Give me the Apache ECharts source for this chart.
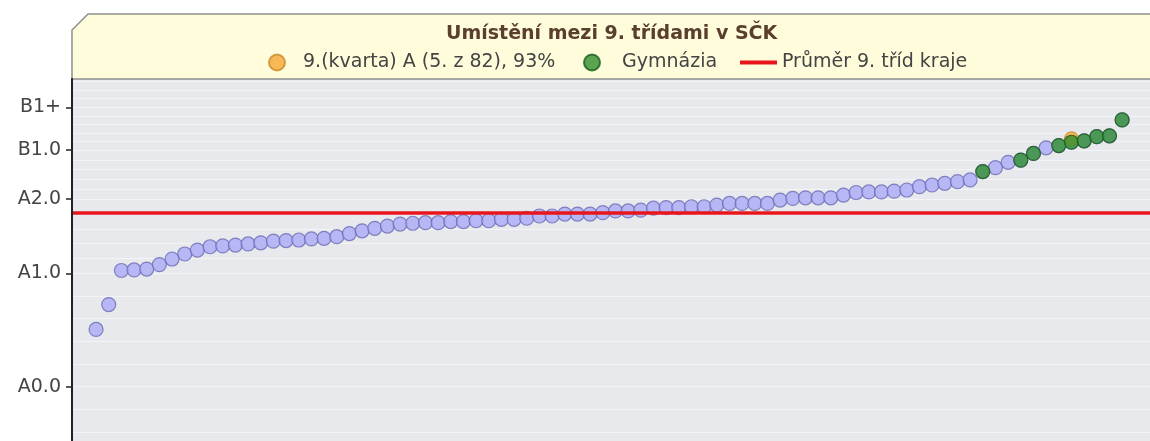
<!DOCTYPE html>
<html>
<head>
<meta charset="utf-8">
<script src="https://cdn.jsdelivr.net/npm/echarts@6/dist/echarts.min.js"></script>
<style>
  html, body { margin: 0; padding: 0; background: #fff; }
  #chart { width: 1150px; height: 441px; }
</style>
</head>
<body>
<div id="chart"></div>
<script>
// vsechny tridy serazene podle vysledku (1 = nejhorsi)
var classValues = [
    20.5, 29.4, 41.6, 41.8, 42.1, 43.7, 45.7, 47.5, 48.9, 50.1,
    50.4, 50.7, 51.1, 51.5, 52.1, 52.3, 52.5, 52.9, 53.1, 53.7,
    54.8, 55.8, 56.7, 57.5, 58.2, 58.5, 58.7, 58.7, 59.1, 59.1,
    59.4, 59.4, 59.9, 59.9, 60.3, 61.1, 61.1, 61.8, 61.8, 61.8,
    62.3, 62.9, 62.9, 63.2, 63.9, 64.1, 64.1, 64.4, 64.4, 65.0,
    65.6, 65.6, 65.6, 65.6, 66.8, 67.4, 67.6, 67.6, 67.6, 68.6,
    69.5, 69.7, 69.7, 70.0, 70.4, 71.6, 72.2, 72.8, 73.4, 74.0,
    77.0, 78.4, 80.3, 81.1, 83.5, 85.5, 86.3, 87.5, 88.0, 89.5,
    89.8, 95.5
];
var gymIndex = [71, 74, 75, 77, 78, 79, 80, 81, 82];
var myClassIndex = 78;
var myClassValue = 88.7;
var krajAverage = 62.2;

var tickValues = [0, 40.6, 67.1, 84.7, 100];
var tickNames = ['A0.0', 'A1.0', 'A2.0', 'B1.0', 'B1+'];
var gridValues = [-16.2, -8.1, 0, 8.1, 16.2, 24.4, 32.5, 40.6, 45.9, 51.2, 56.5, 61.8,
    67.1, 70.6, 74.1, 77.7, 81.2, 84.7, 87.8, 90.8, 93.9, 96.9, 100, 103.1, 106.1, 109.2];

var legendNames = ['9.(kvarta) A (5. z 82), 93%', 'Gymnázia', 'Průměr 9. tříd kraje'];

var xMin = -0.9, xMax = 84.2;

var allData = classValues.map(function (v, i) { return [i + 1, v]; });
var gymData = gymIndex.map(function (n) { return [n, classValues[n - 1]]; });

var font = 'DejaVu Sans';

var dom = document.getElementById('chart');
var myChart = echarts.init(dom);

var option = {
    animation: false,
    textStyle: { fontFamily: font },
    graphic: [
        {
            type: 'polygon',
            z: 0,
            shape: { points: [[72, 30], [88, 14], [1152, 14], [1152, 79], [72, 79]] },
            style: { fill: '#fefcdb', stroke: '#8f8f8f', lineWidth: 1.5 }
        }
    ],
    title: {
        text: 'Umístění mezi 9. třídami v SČK',
        left: 446,
        top: 25,
        padding: 0,
        z: 10,
        textStyle: { fontFamily: font, fontSize: 19, fontWeight: 'bold', color: '#5a3e2e' }
    },
    legend: [
        {
            data: [legendNames[0]], left: 268, top: 53, padding: 0, z: 10,
            icon: 'circle', itemWidth: 42, itemHeight: 16,
            textStyle: { fontFamily: font, fontSize: 19, color: '#444' }
        },
        {
            data: [legendNames[1]], left: 583, top: 53, padding: 0, z: 10,
            icon: 'circle', itemWidth: 50, itemHeight: 16,
            textStyle: { fontFamily: font, fontSize: 19, color: '#444' }
        },
        {
            data: [legendNames[2]], left: 740, top: 53, padding: 0, z: 10,
            icon: 'rect', itemWidth: 37, itemHeight: 4,
            textStyle: { fontFamily: font, fontSize: 19, color: '#444' }
        }
    ],
    grid: {
        left: 72, right: 0, top: 79, bottom: 0,
        show: true, backgroundColor: '#e7e9ec', borderWidth: 0
    },
    xAxis: {
        type: 'value', min: xMin, max: xMax, show: false
    },
    yAxis: {
        type: 'value',
        min: -19.43,
        max: 110.13,
        z: 10,
        axisLine: { show: true, onZero: false, lineStyle: { color: '#222', width: 2 } },
        axisTick: { show: true, length: 6, customValues: tickValues, lineStyle: { color: '#222', width: 1.5 } },
        axisLabel: {
            customValues: tickValues,
            margin: 11,
            fontFamily: font,
            fontSize: 19,
            color: '#444',
            formatter: function (v) {
                for (var k = 0; k < tickValues.length; k++) {
                    if (Math.abs(tickValues[k] - v) < 0.01) return tickNames[k];
                }
                return '';
            }
        },
        splitLine: { show: false }
    },
    series: [
        {
            name: 'vsechny',
            type: 'scatter',
            symbol: 'circle',
            symbolSize: 14,
            data: allData,
            itemStyle: { color: '#aaaaf6', borderColor: '#6a6ab4', borderWidth: 1.2 },
            markLine: {
                silent: true,
                symbol: 'none',
                label: { show: false },
                lineStyle: { color: '#f3f4f6', width: 1, type: 'solid' },
                data: gridValues.map(function (g) { return { yAxis: g }; }),
                z: 1
            }
        },
        {
            name: legendNames[0],
            type: 'scatter',
            symbol: 'circle',
            symbolSize: 14,
            data: [[myClassIndex, myClassValue]],
            itemStyle: { color: '#f5a733', borderColor: '#c98a2c', borderWidth: 1.2 }
        },
        {
            name: legendNames[1],
            type: 'scatter',
            symbol: 'circle',
            symbolSize: 14,
            data: gymData,
            itemStyle: { color: '#2f8f2f', borderColor: '#1c5c1c', borderWidth: 1.2 }
        },
        {
            name: legendNames[2],
            type: 'line',
            symbol: 'none',
            color: '#e8161c',
            lineStyle: { color: '#e8161c', width: 3.5 },
            data: [[xMin, krajAverage], [xMax, krajAverage]]
        }
    ]
};

myChart.setOption(option, true);
</script>
</body>
</html>
